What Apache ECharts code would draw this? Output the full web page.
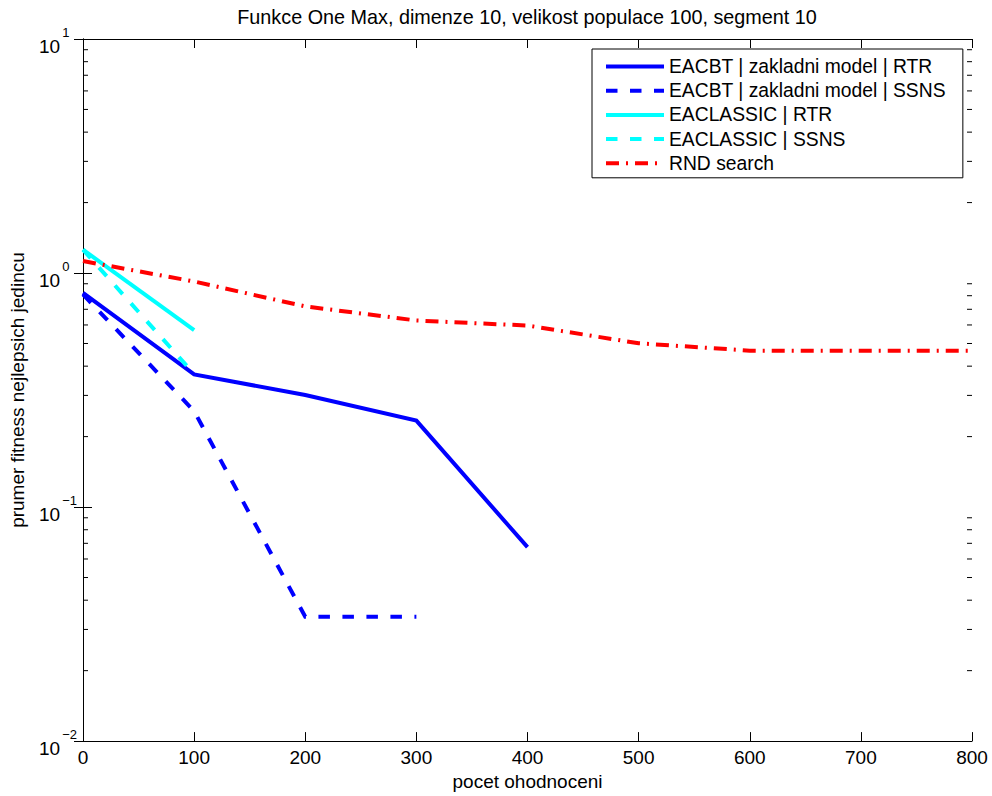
<!DOCTYPE html>
<html>
<head>
<meta charset="utf-8">
<script src="https://cdn.jsdelivr.net/npm/echarts@6/dist/echarts.min.js"></script>
<style>html,body{margin:0;padding:0;background:#fff}#c{width:992px;height:796px}</style>
</head>
<body>
<div id="c"></div>
<script>
// ---- data ----
const titleText = 'Funkce One Max, dimenze 10, velikost populace 100, segment 10';
const xName = 'pocet ohodnoceni';
const yName = 'prumer fitness nejlepsich jedincu';
const seriesNames = [
  'EACBT | zakladni model | RTR',
  'EACBT | zakladni model | SSNS',
  'EACLASSIC | RTR',
  'EACLASSIC | SSNS',
  'RND search'
];
const xEacbtRtr = [0, 100, 200, 300, 400];
const eacbtRtr = [0.822, 0.369, 0.301, 0.234, 0.0674];
const xEacbtSsns = [0, 100, 200, 300];
const eacbtSsns = [0.81, 0.257, 0.034, 0.034];
const xClassic = [0, 100];
const classicRtr = [1.258, 0.57];
const classicSsns = [1.258, 0.37];
const xRnd = [0, 100, 200, 300, 400, 500, 600, 700, 800];
const rndSearch = [1.125, 0.92, 0.72, 0.627, 0.5965, 0.501, 0.466, 0.465, 0.465];
const xTicks = [0, 100, 200, 300, 400, 500, 600, 700, 800];
const yMinorTicks = [0.02,0.03,0.04,0.05,0.06,0.07,0.08,0.09,
                     0.2,0.3,0.4,0.5,0.6,0.7,0.8,0.9,
                     2,3,4,5,6,7,8,9];

// ---- chart ----
const FONT = '"Liberation Sans", Arial, Helvetica, sans-serif';
const pairs = (xs, ys) => xs.map((x, i) => [x, ys[i]]);
const chart = echarts.init(document.getElementById('c'), null, {renderer: 'svg'});

function supLabel(v) {
  const e = Math.round(Math.log10(v));
  const s = e < 0 ? '\u2212' + (-e) : String(e);
  return '{a|10}{b|' + s + '}';
}

const xCommon = {
  type: 'value', min: xTicks[0], max: xTicks[xTicks.length - 1], interval: 100,
  axisLine: {show: true, lineStyle: {color: '#000', width: 1}},
  axisTick: {show: true, inside: true, length: 9, lineStyle: {color: '#000'}},
  splitLine: {show: false}
};
const yCommon = {
  type: 'log', logBase: 10, min: 0.01, max: 10, splitNumber: 3,
  axisLine: {show: true, lineStyle: {color: '#000', width: 1}},
  axisTick: {show: true, inside: true, length: 9, lineStyle: {color: '#000'}},
  splitLine: {show: false},
  minorTick: {show: false}, minorSplitLine: {show: false}
};

const LW = 4;
const line = (name, data, color, dash, z) => ({
  name, type: 'line', data, symbol: 'none', showSymbol: false, smooth: false,
  xAxisIndex: 0, yAxisIndex: 0, z,
  lineStyle: {color, width: LW, type: dash, cap: 'butt', join: 'miter'},
  itemStyle: {color},
  emphasis: {disabled: true}
});

chart.setOption({
  animation: false,
  backgroundColor: '#fff',
  textStyle: {fontFamily: FONT},
  grid: {left: 82, right: 20, top: 39, bottom: 54, containLabel: false},
  graphic: [{
    type: 'text', x: 527, y: 17, silent: true,
    style: {text: titleText, fill: '#000', font: '19.8px ' + FONT, textAlign: 'center', textVerticalAlign: 'middle'}
  }],
  legend: {
    orient: 'vertical', left: 592, top: 49,
    padding: [8, 17, 5, 12], itemWidth: 58, itemHeight: 14, itemGap: 5.2,
    backgroundColor: '#fff', borderColor: '#000', borderWidth: 1, borderRadius: 0,
    itemStyle: {color: 'rgba(0,0,0,0)', borderWidth: 0, opacity: 0},
    lineStyle: {width: LW},
    textStyle: {fontSize: 19.3, color: '#000', fontFamily: FONT},
    data: seriesNames, selectedMode: false
  },
  xAxis: [
    Object.assign({}, xCommon, {
      position: 'bottom',
      name: xName, nameLocation: 'middle', nameGap: 28,
      nameTextStyle: {fontSize: 19, color: '#000', fontFamily: FONT},
      axisLabel: {show: true, margin: 7, fontSize: 19, color: '#000', fontFamily: FONT}
    }),
    Object.assign({}, xCommon, {position: 'top', axisLabel: {show: false}})
  ],
  yAxis: [
    Object.assign({}, yCommon, {
      position: 'left',
      name: yName, nameLocation: 'middle', nameGap: 56,
      nameTextStyle: {fontSize: 19, color: '#000', fontFamily: FONT},
      axisLabel: {
        show: true, margin: 44, align: 'left', color: '#000', padding: [4, 0, 0, 0],
        formatter: supLabel,
        rich: {
          a: {fontSize: 19, lineHeight: 30, fontFamily: FONT, color: '#000', verticalAlign: 'bottom'},
          b: {fontSize: 13, lineHeight: 13, fontFamily: FONT, color: '#000', verticalAlign: 'top', padding: [0, 0, 0, 2]}
        }
      }
    }),
    Object.assign({}, yCommon, {position: 'right', axisLabel: {show: false}})
  ],
  series: [
    line(seriesNames[0], pairs(xEacbtRtr, eacbtRtr), '#0000ff', 'solid', 2),
    line(seriesNames[1], pairs(xEacbtSsns, eacbtSsns), '#0000ff', [11.5, 12.5], 3),
    line(seriesNames[2], pairs(xClassic, classicRtr), '#00ffff', 'solid', 4),
    line(seriesNames[3], pairs(xClassic, classicSsns), '#00ffff', [11.5, 12.5], 5),
    line(seriesNames[4], pairs(xRnd, rndSearch), '#ff0000', [13, 7, 2, 7], 6),
    {
      type: 'custom', name: 'minorTicks', silent: true, z: 1,
      xAxisIndex: 0, yAxisIndex: 0,
      data: yMinorTicks.map(v => [xTicks[0], v]),
      renderItem: function (params, api) {
        const v = api.value(1);
        const pL = api.coord([xTicks[0], v]);
        const pR = api.coord([xTicks[xTicks.length - 1], v]);
        return {
          type: 'group', children: [
            {type: 'line', shape: {x1: pL[0], y1: pL[1], x2: pL[0] + 5, y2: pL[1]}, style: {stroke: '#000', lineWidth: 1}},
            {type: 'line', shape: {x1: pR[0] - 5, y1: pR[1], x2: pR[0], y2: pR[1]}, style: {stroke: '#000', lineWidth: 1}}
          ]
        };
      }
    }
  ]
});
</script>
</body>
</html>
